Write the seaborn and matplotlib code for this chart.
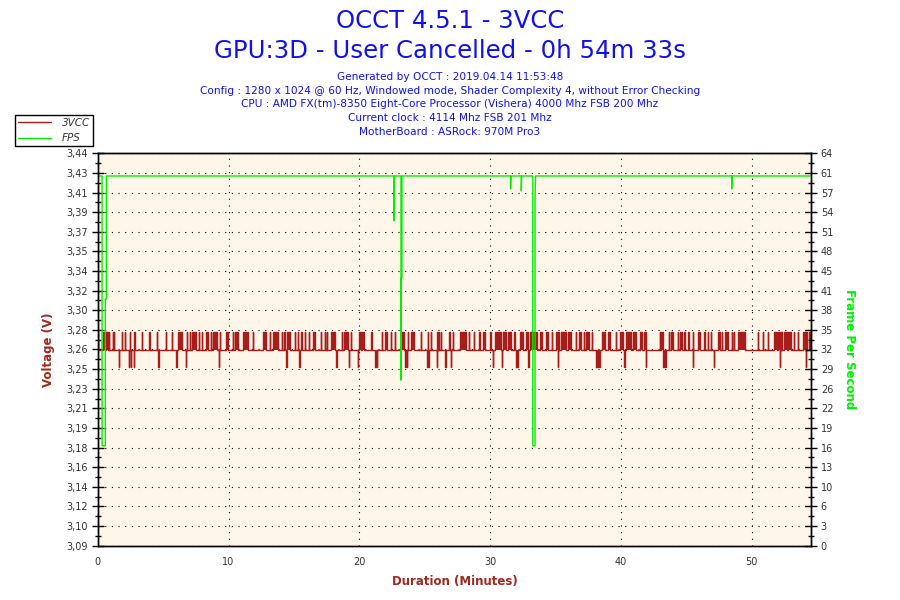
# OCCT 3VCC / FPS log chart
import numpy as np
import seaborn as sns
import matplotlib.pyplot as plt
from matplotlib.ticker import FixedLocator, MultipleLocator

# ---- data ----
DURATION = 54.55  # 0h 54m 33s

VCC_BASE = 3.264
VCC_HIGH = 3.280
VCC_LOW = 3.248

# minutes where 3VCC reads 3.28 V (start, end)
vcc_up = [
    (0.0, 0.0), (0.43, 0.58), (0.63, 0.79), (0.86, 0.86), (1.19, 1.19), (1.27, 1.27),
    (1.88, 1.88), (2.09, 2.09), (2.49, 2.49), (2.77, 2.87), (3.36, 3.36), (3.94, 4.02),
    (4.53, 4.53), (5.22, 5.22), (5.70, 5.70), (6.16, 6.46), (6.80, 6.80), (7.03, 7.03),
    (7.20, 7.51), (7.72, 7.72), (7.94, 7.94), (8.27, 8.40), (8.68, 8.68), (8.83, 9.09),
    (9.34, 9.34), (9.80, 9.93), (10.36, 10.36), (10.51, 10.74), (11.12, 11.51),
    (11.89, 11.89), (12.65, 12.83), (13.16, 13.16), (13.37, 13.75), (14.10, 14.10),
    (14.26, 14.31), (14.51, 14.69), (15.07, 15.07), (15.33, 15.33), (15.53, 15.63),
    (15.86, 15.86), (16.16, 16.16), (16.47, 16.60), (17.04, 17.11), (17.36, 17.36),
    (17.57, 17.57), (17.80, 18.18), (18.69, 18.69), (18.82, 19.14), (19.40, 19.40),
    (19.99, 20.17), (20.24, 20.34), (20.88, 20.98), (21.74, 21.74), (21.95, 22.10),
    (22.46, 22.46), (22.71, 22.71), (23.17, 23.42), (23.73, 23.73), (23.99, 24.19),
    (24.75, 24.75), (25.26, 25.26), (25.52, 25.52), (25.94, 26.07), (26.28, 26.28),
    (26.84, 26.97), (27.17, 27.17), (27.68, 28.14), (28.39, 28.39), (28.75, 28.75),
    (29.15, 29.26), (29.46, 29.59), (30.02, 30.10), (30.35, 30.86), (30.99, 31.19),
    (31.37, 31.63), (31.80, 31.90), (32.31, 32.51), (32.77, 32.87), (33.03, 33.58),
    (33.79, 33.99), (34.25, 34.45), (34.76, 34.76), (35.06, 35.26), (35.45, 35.78),
    (35.95, 36.21), (36.59, 36.59), (36.79, 36.98), (37.15, 37.15), (37.36, 37.56),
    (37.82, 37.82), (38.58, 38.78), (39.04, 39.19), (39.65, 39.65), (39.90, 40.15),
    (40.41, 40.79), (40.97, 41.18), (41.43, 41.64), (41.81, 41.94), (42.96, 42.96),
    (43.09, 43.21), (43.72, 43.72), (43.85, 43.97), (44.36, 44.36), (44.49, 44.67),
    (44.82, 44.93), (45.12, 45.25), (45.55, 45.55), (45.88, 46.09), (46.34, 46.45),
    (46.65, 46.65), (46.91, 46.91), (47.46, 47.56), (47.72, 47.72), (48.00, 48.18),
    (48.48, 48.48), (48.69, 48.69), (48.94, 49.50), (50.47, 50.47), (50.85, 50.85),
    (51.29, 51.29), (51.74, 51.95), (52.05, 52.31), (52.45, 52.71), (52.81, 53.02),
    (53.22, 53.22), (53.58, 53.58), (53.93, 54.24), (54.39, 54.49),
]

# minutes where 3VCC reads 3.248 V
vcc_down = [
    (1.65, 1.65), (2.39, 2.39), (2.57, 2.57), (2.75, 2.75), (4.63, 4.71), (5.98, 6.08),
    (6.72, 6.72), (9.29, 9.29), (14.39, 14.48), (15.40, 15.48), (18.20, 18.28),
    (19.19, 19.19), (19.91, 19.91), (21.24, 21.31), (21.39, 21.39), (23.48, 23.55),
    (23.68, 23.68), (25.21, 25.31), (25.97, 25.97), (26.59, 26.66), (26.99, 26.99),
    (30.22, 30.22), (30.94, 30.94), (31.96, 32.13), (32.89, 32.97), (35.18, 35.18),
    (38.12, 38.22), (38.32, 38.43), (40.28, 40.35), (41.94, 41.94), (43.25, 43.46),
    (45.50, 45.50), (47.13, 47.13), (52.15, 52.15), (54.16, 54.16),
]

# FPS trace (minutes, frames per second)
fps_t = [0.02, 0.33, 0.33, 0.58, 0.58, 0.66, 0.66,
         22.66, 22.66, 22.69,
         23.19, 23.19, 23.22, 23.26, 23.26,
         31.57, 31.57, 31.60,
         32.39, 32.39, 32.42,
         33.27, 33.27, 33.44, 33.44, 33.48,
         48.48, 48.48, 48.51,
         54.50]
fps_v = [60.3, 60.3, 16.3, 16.3, 40.2, 40.2, 60.3,
         60.3, 53.0, 60.3,
         60.3, 27.0, 43.7, 43.7, 60.3,
         60.3, 58.2, 60.3,
         60.3, 57.9, 60.3,
         60.3, 16.3, 16.3, 56.4, 60.3,
         60.3, 58.2, 60.3,
         60.3]

volt_labels = ["3,09", "3,10", "3,12", "3,14", "3,16", "3,18", "3,19", "3,21", "3,23",
               "3,25", "3,26", "3,28", "3,30", "3,32", "3,34", "3,35", "3,37", "3,39",
               "3,41", "3,43", "3,44"]
fps_labels = ["0", "3", "6", "10", "13", "16", "19", "22", "26", "29", "32", "35",
              "38", "41", "45", "48", "51", "54", "57", "61", "64"]

title_lines = ["OCCT 4.5.1 - 3VCC", "GPU:3D - User Cancelled - 0h 54m 33s"]
info_lines = [
    "Generated by OCCT : 2019.04.14 11:53:48",
    "Config : 1280 x 1024 @ 60 Hz, Windowed mode, Shader Complexity 4, without Error Checking",
    "CPU : AMD FX(tm)-8350 Eight-Core Processor (Vishera) 4000 Mhz FSB 200 Mhz",
    "Current clock : 4114 Mhz FSB 201 Mhz",
    "MotherBoard : ASRock: 970M Pro3",
]

RED = "#A81C1C"
GREEN = "#00F000"
BLUE = "#1010F0"
LABEL_RED = "#A0281E"


def step_trace(base, spans):
    # turn (start, end, level) spans into a step polyline around the base level
    xs, ys = [0.0], [base]
    for s, e, lvl in sorted(spans):
        xs += [s, s, e, e]
        ys += [base, lvl, lvl, base]
    xs.append(DURATION)
    ys.append(base)
    return xs, ys


spans = [(s, e, VCC_HIGH) for s, e in vcc_up] + [(s, e, VCC_LOW) for s, e in vcc_down]
vx, vy = step_trace(VCC_BASE, spans)

sns.set_theme(style="white")
plt.rcParams["font.family"] = ["DejaVu Sans"]

fig = plt.figure(figsize=(9, 6), dpi=100)
ax = fig.add_axes([0.1086, 0.0905, 0.7926, 0.654])
ax.set_facecolor("#FDF6E9")
ax2 = ax.twinx()

# red trace: filled blocks + outline
ax.fill_between(vx, VCC_BASE, vy, color=RED, linewidth=0)
sns.lineplot(x=vx, y=vy, sort=False, estimator=None, ax=ax, color=RED,
             linewidth=1.0, label="3VCC")
sns.lineplot(x=fps_t, y=fps_v, sort=False, estimator=None, ax=ax2, color=GREEN,
             linewidth=1.0, label="FPS")

# axes limits / ticks
ax.set_xlim(0, DURATION)
ax.set_ylim(3.088, 3.440)
ax2.set_ylim(0, 64)

ax.xaxis.set_major_locator(MultipleLocator(10))
ax.xaxis.set_minor_locator(MultipleLocator(2))

vt = np.linspace(3.088, 3.440, len(volt_labels))
ax.yaxis.set_major_locator(FixedLocator(vt))
ax.set_yticklabels(volt_labels)
ax.yaxis.set_minor_locator(FixedLocator((vt[:-1] + vt[1:]) / 2))

ft = np.linspace(0, 64, len(fps_labels))
ax2.yaxis.set_major_locator(FixedLocator(ft))
ax2.set_yticklabels(fps_labels)
ax2.yaxis.set_minor_locator(FixedLocator((ft[:-1] + ft[1:]) / 2))

for a in (ax, ax2):
    a.tick_params(which="major", direction="inout", length=8, width=1, color="black",
                  labelsize=7, labelcolor="#333333", pad=3)
    a.tick_params(which="minor", direction="inout", length=4, width=1, color="black")
    for sp in a.spines.values():
        sp.set_color("black")
        sp.set_linewidth(1)
ax.tick_params(axis="x", which="major", pad=4)

ax.grid(True, which="major", color="black", linestyle=(0, (1, 5)), linewidth=0.8)
ax.set_axisbelow(True)

ax.set_xlabel("Duration (Minutes)", color=LABEL_RED, fontsize=8.5, fontweight="bold",
              labelpad=6)
ax.set_ylabel("Voltage (V)", color=LABEL_RED, fontsize=8.5, fontweight="bold",
              labelpad=8)
ax2.set_ylabel("Frame Per Second", color=GREEN, fontsize=8.5, fontweight="bold",
               rotation=270, labelpad=16)

# legend (top left, outside plot)
h1, l1 = ax.get_legend_handles_labels()
h2, l2 = ax2.get_legend_handles_labels()
ax.get_legend().remove()
ax2.get_legend().remove()
leg = fig.legend(h1 + h2, l1 + l2, loc="upper left",
                 bbox_to_anchor=(15 / 900, 1 - 115 / 600), bbox_transform=fig.transFigure,
                 fancybox=False, framealpha=1, edgecolor="black", fontsize=7.5,
                 handlelength=3.2, borderpad=0.3, labelspacing=0.5, handletextpad=1.0,
                 borderaxespad=0)
leg.get_frame().set_linewidth(1)
for t in leg.get_texts():
    t.set_fontstyle("italic")
    t.set_color("#333333")
leg.set_zorder(10)

# titles
fig.text(0.5, 1 - 21 / 600, title_lines[0], ha="center", va="center", fontsize=17.6,
         color=BLUE)
fig.text(0.5, 1 - 51 / 600, title_lines[1], ha="center", va="center", fontsize=17.6,
         color=BLUE)
for i, line in enumerate(info_lines):
    fig.text(0.5, 1 - (77 + i * 13.7) / 600, line, ha="center", va="center",
             fontsize=7.6, color=BLUE)

fig.savefig("out.png", dpi=100)
